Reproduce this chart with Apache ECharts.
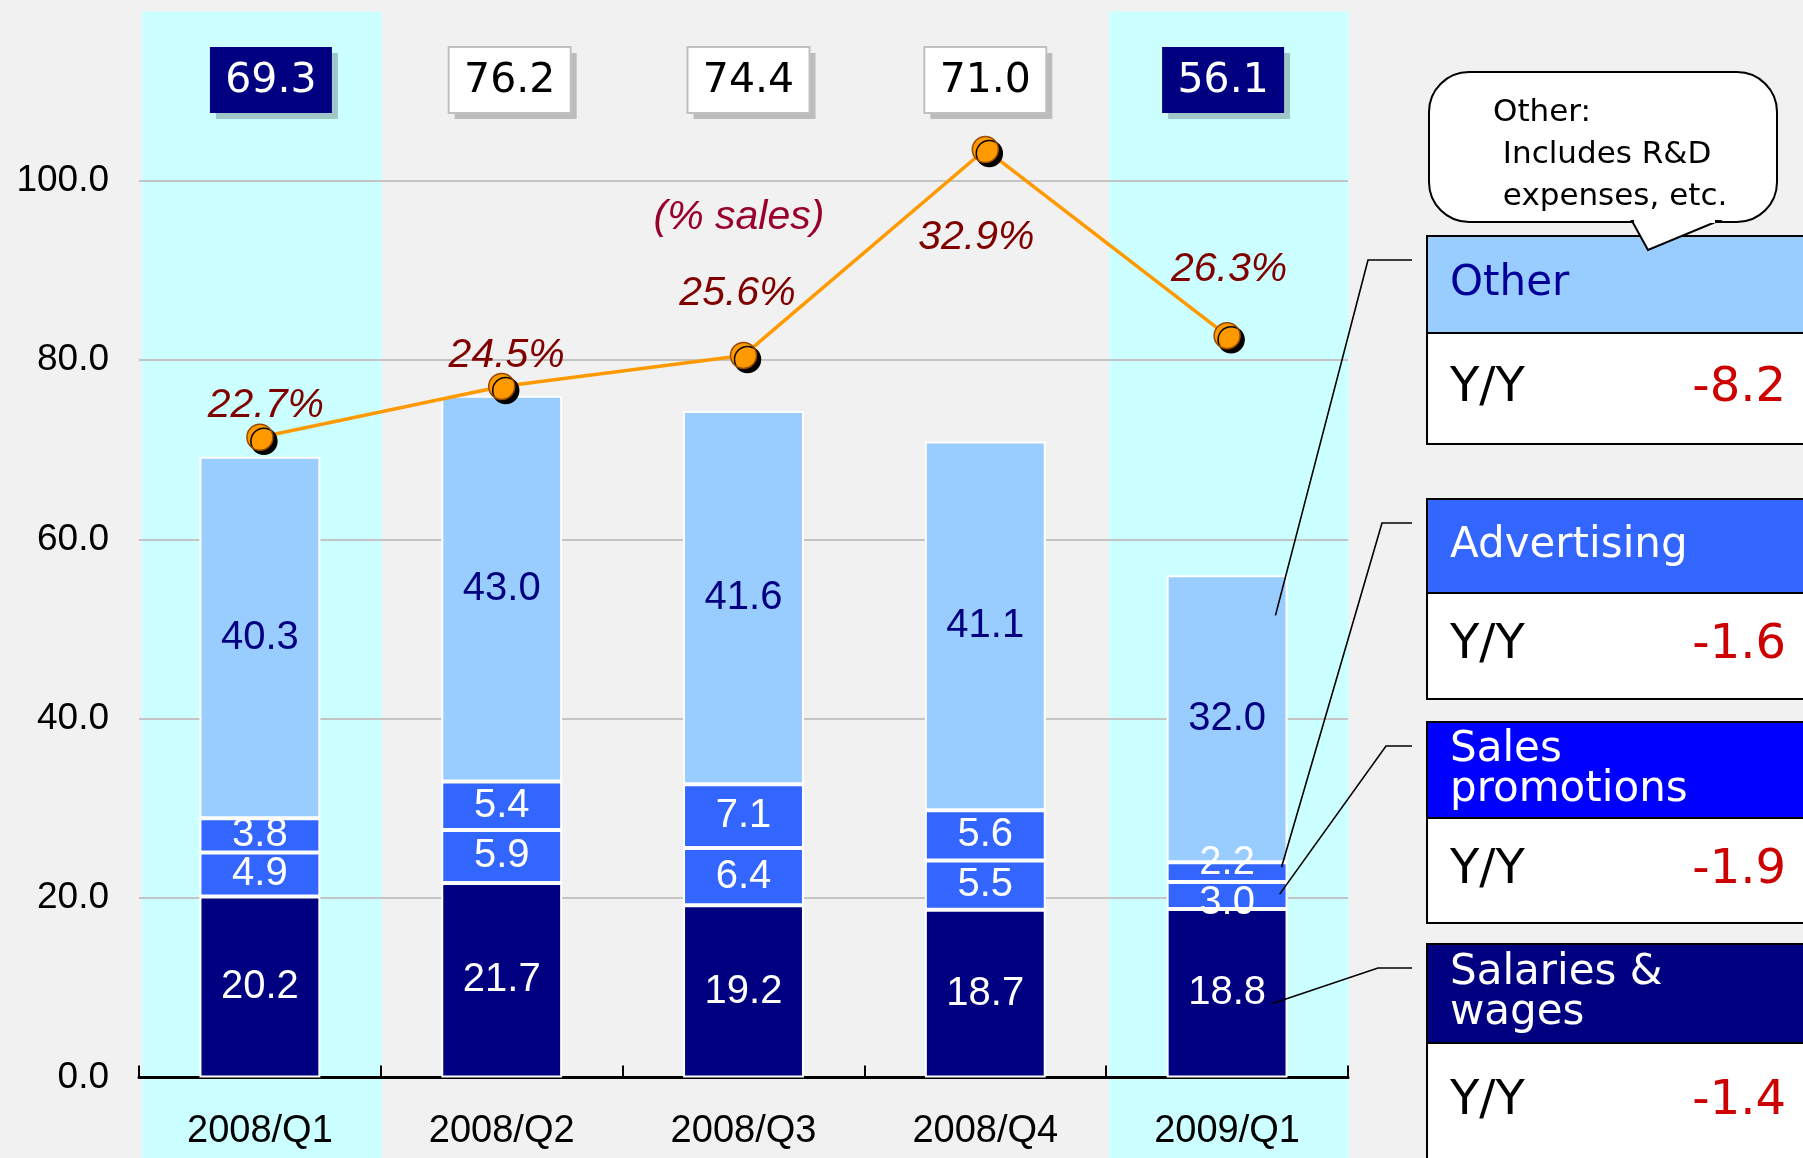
<!DOCTYPE html>
<html><head><meta charset="utf-8">
<script src="https://cdn.jsdelivr.net/npm/echarts/dist/echarts.min.js"></script>
<style>html,body{margin:0;padding:0;background:#f1f1f1;} #main{width:1803px;height:1158px;}</style>
</head><body><div id="main"></div>
<script>
// ---- data ----
const categories = ['2008/Q1', '2008/Q2', '2008/Q3', '2008/Q4', '2009/Q1'];
const salaries = [20.2, 21.7, 19.2, 18.7, 18.8];
const salesPromotions = [4.9, 5.9, 6.4, 5.5, 3.0];
const advertising = [3.8, 5.4, 7.1, 5.6, 2.2];
const other = [40.3, 43.0, 41.6, 41.1, 32.0];
const totals = [69.3, 76.2, 74.4, 71.0, 56.1];
const pctSales = [22.7, 24.5, 25.6, 32.9, 26.3];
const highlighted = [1, 0, 0, 0, 1];
const panelNames = ['Other', 'Advertising', 'Sales\npromotions', 'Salaries &\nwages'];
const yoyValues = [-8.2, -1.6, -1.9, -1.4];
const noteLines = ['Other:', ' Includes R&D', ' expenses, etc.'];

// ---- layout / style constants ----
const FONT_A = '"Liberation Sans", Arial, sans-serif';
const FONT_V = '"DejaVu Sans", Verdana, sans-serif';
const pctLabelOffsets = [[6, -32], [5, -31], [-6, -62], [-9, 88], [2, -66]];
const boxShift = [11, 8, 5, 0, -4];

const option = {
  backgroundColor: '#f1f1f1',
  animation: false,
  grid: { left: 139, right: 455, top: 180.5, bottom: 80.4, outerBoundsMode: 'none', containLabel: false },
  xAxis: {
    type: 'category', data: categories, boundaryGap: true,
    axisLine: { lineStyle: { color: '#000', width: 3 } },
    axisTick: { show: true, inside: true, length: 12, lineStyle: { color: '#000', width: 2 } },
    axisLabel: { color: '#000', fontSize: 38, fontFamily: FONT_A, margin: 35 },
    splitLine: { show: false }
  },
  yAxis: [{
    type: 'value', min: 0, max: 100, interval: 20,
    axisLine: { show: false }, axisTick: { show: false },
    axisLabel: { color: '#000', fontSize: 37, fontFamily: FONT_A, margin: 30, formatter: v => v.toFixed(1) },
    splitLine: { show: true, lineStyle: { color: '#c4c4c4', width: 2 } }
  }, {
    type: 'value', min: 0, max: 31.8, show: false, splitLine: { show: false }
  }],
  series: [
    {
      type: 'custom', name: 'band', z: -5, silent: true, clip: false,
      data: highlighted.map((h, i) => [i, h]), encode: { x: 0, y: 1 },
      renderItem: function (params, api) {
        if (!api.value(1)) return null;
        const c = api.coord([api.value(0), 0]);
        const w = api.size([1, 0])[0];
        return { type: 'rect', shape: { x: c[0] - w / 2 + 3, y: 11.5, width: w - 2, height: 1200 }, style: { fill: '#CCFFFF' } };
      }
    },
    {
      type: 'bar', name: 'Salaries & wages', stack: 's', barWidth: '50%', data: salaries,
      itemStyle: { color: '#000080', borderColor: '#ffffff', borderWidth: 2 },
      label: { show: true, position: 'inside', color: '#fff', fontSize: 40, fontFamily: FONT_A, formatter: p => p.value.toFixed(1) }
    },
    {
      type: 'bar', name: 'Sales promotions', stack: 's', data: salesPromotions.map((v, i) => i === 4 ? { value: v, label: { offset: [0, 7] } } : v),
      itemStyle: { color: '#3366FF', borderColor: '#ffffff', borderWidth: 2 },
      label: { show: true, position: 'inside', color: '#fff', fontSize: 40, fontFamily: FONT_A, formatter: p => p.value.toFixed(1) }
    },
    {
      type: 'bar', name: 'Advertising', stack: 's', data: advertising.map((v, i) => i === 4 ? { value: v, label: { offset: [0, -9] } } : v),
      itemStyle: { color: '#3366FF', borderColor: '#ffffff', borderWidth: 2 },
      label: { show: true, position: 'inside', color: '#fff', fontSize: 40, fontFamily: FONT_A, formatter: p => p.value.toFixed(1) }
    },
    {
      type: 'bar', name: 'Other', stack: 's', data: other,
      itemStyle: { color: '#99CCFF', borderColor: '#ffffff', borderWidth: 2 },
      label: { show: true, position: 'inside', color: '#000080', fontSize: 40, fontFamily: FONT_A, formatter: p => p.value.toFixed(1) }
    },
    {
      type: 'line', name: '% sales', yAxisIndex: 1, z: 5, clip: false,
      data: pctSales.map((v, i) => ({ value: v, label: { offset: pctLabelOffsets[i] } })),
      lineStyle: { color: '#FF9900', width: 3.5 },
      symbol: 'circle', symbolSize: 26,
      itemStyle: { color: '#FF9900', borderColor: '#9a4a00', borderWidth: 1.5, shadowColor: '#000', shadowOffsetX: 4, shadowOffsetY: 4, shadowBlur: 0 },
      label: { show: true, position: 'inside', color: '#800000', fontSize: 41, fontStyle: 'italic', fontFamily: FONT_A, formatter: p => p.value.toFixed(1) + '%' }
    },
    {
      type: 'custom', name: 'totals', z: 10, silent: true, clip: false,
      data: totals.map((v, i) => [i, v]), encode: { x: 0, y: 1 },
      renderItem: function (params, api) {
        const i = api.value(0);
        const x = api.coord([i, 0])[0] + boxShift[i];
        const hl = highlighted[i];
        const bw = 122, bh = 66, top = 47;
        return {
          type: 'group', children: [
            { type: 'rect', shape: { x: x - bw / 2 + 6, y: top + 6, width: bw, height: bh }, style: { fill: 'rgba(0,0,0,0.22)' } },
            { type: 'rect', shape: { x: x - bw / 2, y: top, width: bw, height: bh }, style: { fill: hl ? '#000080' : '#ffffff', stroke: hl ? null : '#c0c0c0', lineWidth: 2 } },
            { type: 'text', x: x, y: top + bh / 2 + 1, style: { text: totals[i].toFixed(1), fill: hl ? '#ffffff' : '#000000', font: '41px ' + FONT_V, align: 'center', verticalAlign: 'middle' } }
          ]
        };
      }
    }
  ]
};

const chart = echarts.init(document.getElementById('main'), null, { renderer: 'canvas' });
chart.setOption(option);

// ---- annotations (panel, callout, leader lines) ----
const graphics = [];
const panelX = 1427, panelRight = 1815;
const boxes = [
  { top: 236, mid: 333, bot: 444, fill: '#99CCFF', color: '#000099' },
  { top: 499, mid: 593, bot: 699, fill: '#3366FF', color: '#ffffff' },
  { top: 722, mid: 818, bot: 923, fill: '#0000FF', color: '#ffffff' },
  { top: 944, mid: 1043, bot: 1175, fill: '#000080', color: '#ffffff' }
];
boxes.forEach((b, k) => {
  graphics.push({ type: 'rect', shape: { x: panelX, y: b.mid, width: panelRight - panelX, height: b.bot - b.mid }, style: { fill: '#ffffff', stroke: '#000', lineWidth: 2 } });
  graphics.push({ type: 'rect', shape: { x: panelX, y: b.top, width: panelRight - panelX, height: b.mid - b.top }, style: { fill: b.fill, stroke: '#000', lineWidth: 2 } });
  graphics.push({ type: 'text', x: 1450, y: (b.top + b.mid) / 2, style: { text: panelNames[k], fill: b.color, font: '42px ' + FONT_V, lineHeight: 40, verticalAlign: 'middle', align: 'left' } });
  const rowMid = k === 3 ? 1102 : (b.mid + b.bot) / 2;
  graphics.push({ type: 'text', x: 1450, y: rowMid, style: { text: 'Y/Y', fill: '#000', font: '48px ' + FONT_V, verticalAlign: 'middle', align: 'left' } });
  graphics.push({ type: 'text', x: 1786, y: rowMid, style: { text: yoyValues[k].toFixed(1), fill: '#CC0000', font: '48px ' + FONT_V, verticalAlign: 'middle', align: 'right' } });
});

// callout bubble
graphics.push({ type: 'rect', shape: { x: 1429, y: 72, width: 348, height: 150, r: 40 }, style: { fill: '#fff', stroke: '#000', lineWidth: 2 } });
graphics.push({ type: 'polygon', shape: { points: [[1632, 221], [1648, 250], [1718, 221]] }, style: { fill: '#fff', stroke: '#000', lineWidth: 2 } });
graphics.push({ type: 'line', shape: { x1: 1634, y1: 221.5, x2: 1715, y2: 221.5 }, style: { stroke: '#fff', lineWidth: 3 } });
noteLines.forEach((t, k) => {
  graphics.push({ type: 'text', x: 1493, y: 113 + k * 42, style: { text: t, fill: '#000', font: '31px ' + FONT_V, verticalAlign: 'middle', align: 'left' } });
});

// (% sales) note
graphics.push({ type: 'text', x: 739, y: 218, style: { text: '(% sales)', fill: '#99002B', font: 'italic 41px ' + FONT_A, align: 'center', verticalAlign: 'middle' } });

// leader lines from last bar segments to the panel
const last = categories.length - 1;
const barHalf = chart.getModel().getSeriesByIndex(1).getData().getItemLayout(last).width / 2;
const centerX = chart.convertToPixel({ gridIndex: 0 }, [last, 0])[0];
const base = [0, salaries[last], salaries[last] + salesPromotions[last], salaries[last] + salesPromotions[last] + advertising[last]];
const anchors = [
  { v: base[3] + other[last] * 0.86, fx: 0.8, box: 0 },
  { v: base[2] + advertising[last] * 0.75, fx: 0.9, box: 1 },
  { v: base[1] + salesPromotions[last] * 0.55, fx: 0.87, box: 2 },
  { v: base[0] + salaries[last] * 0.44, fx: 0.75, box: 3 }
];
const kneeX = [1368, 1382, 1386, 1378];
anchors.forEach((a, k) => {
  const y = chart.convertToPixel({ yAxisIndex: 0 }, a.v);
  const x = centerX + Math.abs(barHalf) * a.fx;
  const ky = boxes[a.box].top + 24;
  graphics.push({ type: 'polyline', z: 20, shape: { points: [[x, y], [kneeX[k], ky], [1412, ky]] }, style: { stroke: '#000', lineWidth: 1.6, fill: null } });
});

chart.setOption({ graphic: graphics });
</script>
</body></html>
